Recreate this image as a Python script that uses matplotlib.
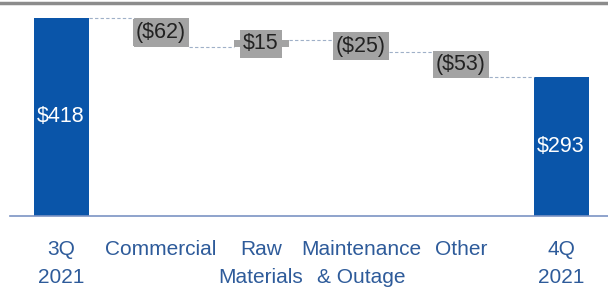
import matplotlib.pyplot as plt
import matplotlib.lines as mlines

# Data
categories = ["3Q\n2021", "Commercial", "Raw\nMaterials", "Maintenance\n& Outage", "Other", "4Q\n2021"]
start_value = 418
deltas = [-62, 15, -25, -53]
end_value = 293
delta_labels = ["($62)", "$15", "($25)", "($53)"]
total_labels = ["$418", "$293"]

plt.rcParams['font.family'] = ['Liberation Sans', 'DejaVu Sans']

BLUE = "#0a55a9"
GREY = "#a3a3a3"
TXT_BLUE = "#2e5b9a"

fig = plt.figure(figsize=(6.08, 2.98), dpi=100)
ax = fig.add_axes([10 / 608, 82 / 298, 598 / 608, 216 / 298])
ax.set_xlim(-0.51, 5.47)
ax.set_ylim(0, 456)

w = 0.55
# totals
ax.bar(0, start_value, width=w, color=BLUE)
ax.bar(5, end_value, width=w, color=BLUE)
ax.text(0, start_value / 2, total_labels[0], color="white", ha="center", va="center", fontsize=15.5)
ax.text(5, end_value / 2, total_labels[1], color="white", ha="center", va="center", fontsize=15.5)

# floating deltas
level = start_value
levels = [level]
for i, d in enumerate(deltas):
    x = i + 1
    lo = min(level, level + d)
    ax.bar(x, abs(d), bottom=lo, width=w, color=GREY)
    ax.text(x, lo + abs(d) / 2, delta_labels[i], ha="center", va="center", fontsize=15.5, color="#222222",
            bbox=dict(boxstyle="square,pad=0.15", fc=GREY, ec="none"))
    level += d
    levels.append(level)

# connectors
for i, lv in enumerate(levels):
    ax.plot([i + w / 2, i + 1 - w / 2], [lv, lv], ls=(0, (3, 2)), lw=0.8, color="#9fb0c8")

ax.set_xticks(range(len(categories)))
ax.set_xticklabels(categories, fontsize=15, color=TXT_BLUE, linespacing=1.65)
ax.tick_params(axis="x", length=0, pad=17)
ax.set_yticks([])
for s in ["top", "left", "right"]:
    ax.spines[s].set_visible(False)
ax.spines["bottom"].set_color("#7b93c4")
ax.spines["bottom"].set_linewidth(1.2)

# top rule
fig.add_artist(mlines.Line2D([0, 1], [1 - 3 / 298, 1 - 3 / 298], color="#8c8c8c", lw=2.5,
                             transform=fig.transFigure))

fig.savefig("out.png", dpi=100)
